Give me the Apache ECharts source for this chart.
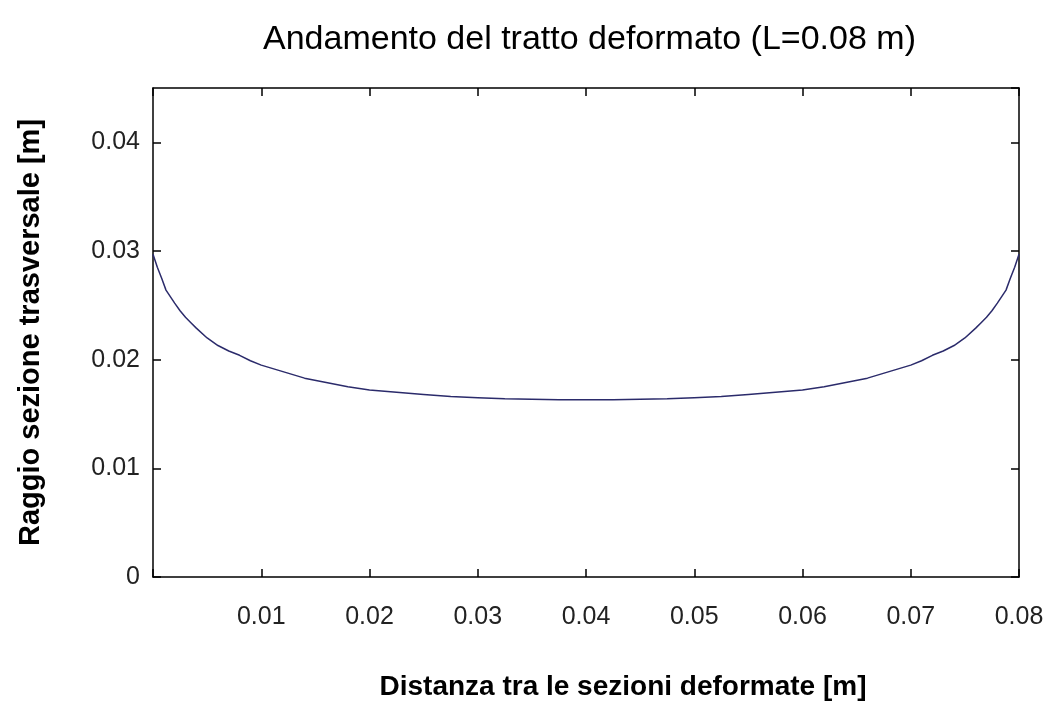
<!DOCTYPE html>
<html>
<head>
<meta charset="utf-8">
<script src="https://cdn.jsdelivr.net/npm/echarts@6/dist/echarts.min.js"></script>
<style>html,body{margin:0;padding:0;background:#fff;}#c{width:1050px;height:718px;}</style>
</head>
<body>
<div id="c"></div>
<script>
const titleText = 'Andamento del tratto deformato (L=0.08 m)';
const xName = 'Distanza tra le sezioni deformate [m]';
const yName = 'Raggio sezione trasversale [m]';
const distX = [0, 0.0004, 0.0008, 0.0012, 0.0016, 0.0020, 0.0025, 0.0030, 0.0035, 0.0040,
  0.0050, 0.0060, 0.0070, 0.0080, 0.0090, 0.0100, 0.0120, 0.0140, 0.0160, 0.0180,
  0.0200, 0.0225, 0.0250, 0.0275, 0.0300, 0.0325, 0.0350, 0.0375, 0.0400,
  0.0425, 0.0450, 0.0475, 0.0500, 0.0525, 0.0550, 0.0575, 0.0600, 0.0620, 0.0640,
  0.0660, 0.0680, 0.0700, 0.0710, 0.0720, 0.0730, 0.0740, 0.0750, 0.0760, 0.0765,
  0.0770, 0.0775, 0.0780, 0.0784, 0.0788, 0.0792, 0.0796, 0.0800];
const radius = [0.0297, 0.0285, 0.0275, 0.0264, 0.0258, 0.0252, 0.0245, 0.0239, 0.0234, 0.0229,
  0.0220, 0.0213, 0.0208, 0.0204, 0.0199, 0.0195, 0.0189, 0.0183, 0.0179, 0.0175,
  0.0172, 0.0170, 0.0168, 0.0166, 0.0165, 0.0164, 0.01635, 0.0163, 0.0163,
  0.0163, 0.01635, 0.0164, 0.0165, 0.0166, 0.0168, 0.0170, 0.0172, 0.0175, 0.0179,
  0.0183, 0.0189, 0.0195, 0.0199, 0.0204, 0.0208, 0.0213, 0.0220, 0.0229, 0.0234,
  0.0239, 0.0245, 0.0252, 0.0258, 0.0264, 0.0275, 0.0285, 0.0297];
const xTicks = { min: 0, max: 0.08, interval: 0.01 };
const yTicks = { min: 0, max: 0.045, interval: 0.01 };

const chart = echarts.init(document.getElementById('c'), null, { renderer: 'canvas' });
const font = 'Liberation Sans, Arial, sans-serif';
const lineStyle = { color: '#000', width: 1.5 };
const axisLine = { show: true, onZero: false, lineStyle: lineStyle };
const tickStyle = { show: true, inside: true, length: 8, lineStyle: { color: '#000', width: 1.5 } };
const data = distX.map((x, i) => [x, radius[i]]);
chart.setOption({
  backgroundColor: '#fff',
  animation: false,
  title: {
    text: titleText, left: 258, top: 18,
    textStyle: { fontFamily: font, fontSize: 34, fontWeight: 'normal', color: '#000' }
  },
  grid: { left: 153, right: 31, top: 88, bottom: 141, containLabel: false },
  xAxis: [{
    type: 'value', min: xTicks.min, max: xTicks.max, interval: xTicks.interval,
    position: 'bottom',
    name: xName, nameLocation: 'middle', nameGap: 96,
    nameTextStyle: { fontFamily: font, fontSize: 28, fontWeight: 'bold', color: '#000', padding: [0, 0, 0, 74] },
    axisLine: axisLine,
    axisTick: tickStyle,
    splitLine: { show: false },
    axisLabel: {
      margin: 28, fontFamily: font, fontSize: 25, color: '#222',
      formatter: v => v === 0 ? '' : v.toFixed(2)
    }
  }, {
    type: 'value', min: xTicks.min, max: xTicks.max, interval: xTicks.interval,
    position: 'top',
    axisLine: axisLine,
    axisTick: tickStyle, axisLabel: { show: false }, splitLine: { show: false }
  }],
  yAxis: [{
    type: 'value', min: yTicks.min, max: yTicks.max, interval: yTicks.interval,
    position: 'left',
    name: yName, nameLocation: 'middle', nameGap: 108, nameRotate: 90,
    nameTextStyle: { fontFamily: font, fontSize: 29, fontWeight: 'bold', color: '#000', padding: [0, 0, 0, 0] },
    axisLine: axisLine,
    axisTick: tickStyle,
    splitLine: { show: false },
    axisLabel: {
      margin: 13, fontFamily: font, fontSize: 25, color: '#222', showMaxLabel: false,
      formatter: v => v === 0 ? '0' : v.toFixed(2)
    }
  }, {
    type: 'value', min: yTicks.min, max: yTicks.max, interval: yTicks.interval,
    position: 'right',
    axisLine: axisLine,
    axisTick: tickStyle, axisLabel: { show: false }, splitLine: { show: false }
  }],
  series: [{
    type: 'line', xAxisIndex: 0, yAxisIndex: 0,
    data: data, showSymbol: false, smooth: false,
    lineStyle: { color: '#2b2b6b', width: 1.5 }
  }]
});
</script>
</body>
</html>
